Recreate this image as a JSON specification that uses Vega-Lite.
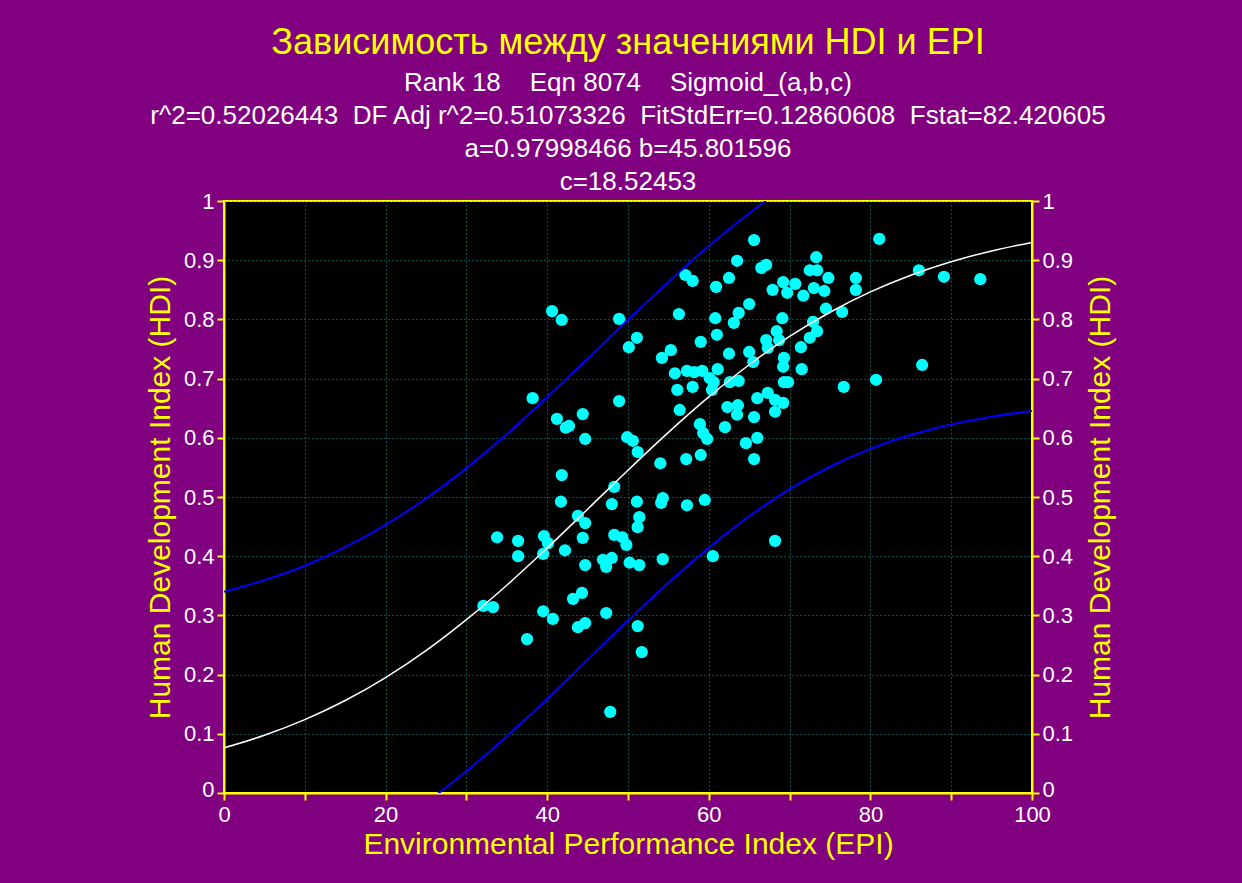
{
  "$schema": "https://vega.github.io/schema/vega-lite/v6.json",
  "width": 808,
  "height": 592,
  "autosize": {"type": "none"},
  "padding": {"left": 224, "top": 201, "right": 210, "bottom": 90},
  "background": "#800080",
  "config": {
    "font": "Liberation Sans",
    "view": {"fill": "#000000", "stroke": "#ffff00", "strokeWidth": 2}
  },
  "title": {
    "text": "Зависимость между значениями HDI и EPI",
    "subtitle": [
      "Rank 18 \u00a0 \u00a0Eqn 8074 \u00a0 \u00a0Sigmoid_(a,b,c)",
      "r^2=0.52026443 \u00a0DF Adj r^2=0.51073326 \u00a0FitStdErr=0.12860608 \u00a0Fstat=82.420605",
      "a=0.97998466 b=45.801596",
      "c=18.52453"
    ],
    "color": "#ffff00",
    "fontSize": 36,
    "fontWeight": "normal",
    "font": "Liberation Sans",
    "subtitleColor": "#ffffff",
    "subtitleFontSize": 26,
    "subtitleFont": "Liberation Sans",
    "subtitleLineHeight": 33,
    "subtitlePadding": 8,
    "anchor": "middle",
    "offset": -6
  },
  "datasets": {
    "points": [
      {"x": 65.6, "y": 0.934}, {"x": 63.5, "y": 0.899}, {"x": 66.5, "y": 0.887}, {"x": 67.1, "y": 0.892},
      {"x": 73.3, "y": 0.905}, {"x": 72.5, "y": 0.883}, {"x": 73.4, "y": 0.883}, {"x": 74.8, "y": 0.870},
      {"x": 57.1, "y": 0.875}, {"x": 58.0, "y": 0.865}, {"x": 62.5, "y": 0.870}, {"x": 60.9, "y": 0.855},
      {"x": 69.2, "y": 0.863}, {"x": 70.7, "y": 0.860}, {"x": 67.9, "y": 0.850}, {"x": 69.7, "y": 0.845},
      {"x": 73.0, "y": 0.853}, {"x": 74.3, "y": 0.848}, {"x": 71.7, "y": 0.840}, {"x": 56.3, "y": 0.809},
      {"x": 65.0, "y": 0.826}, {"x": 63.7, "y": 0.811}, {"x": 63.1, "y": 0.794}, {"x": 60.8, "y": 0.802},
      {"x": 69.1, "y": 0.802}, {"x": 74.5, "y": 0.818}, {"x": 76.5, "y": 0.8125}, {"x": 78.2, "y": 0.870},
      {"x": 78.2, "y": 0.850}, {"x": 81.1, "y": 0.936}, {"x": 86.0, "y": 0.883}, {"x": 89.1, "y": 0.872},
      {"x": 93.6, "y": 0.868}, {"x": 86.4, "y": 0.723}, {"x": 80.7, "y": 0.698}, {"x": 76.7, "y": 0.686},
      {"x": 72.9, "y": 0.796}, {"x": 73.4, "y": 0.780}, {"x": 72.5, "y": 0.769}, {"x": 71.4, "y": 0.753},
      {"x": 68.4, "y": 0.780}, {"x": 67.1, "y": 0.765}, {"x": 68.7, "y": 0.765}, {"x": 67.3, "y": 0.752},
      {"x": 69.3, "y": 0.735}, {"x": 69.2, "y": 0.720}, {"x": 71.5, "y": 0.716}, {"x": 69.3, "y": 0.694},
      {"x": 69.8, "y": 0.694}, {"x": 65.0, "y": 0.745}, {"x": 65.5, "y": 0.728}, {"x": 62.5, "y": 0.742},
      {"x": 61.0, "y": 0.774}, {"x": 59.0, "y": 0.762}, {"x": 55.3, "y": 0.748}, {"x": 54.2, "y": 0.735},
      {"x": 51.1, "y": 0.769}, {"x": 55.8, "y": 0.709}, {"x": 57.3, "y": 0.713}, {"x": 58.2, "y": 0.711},
      {"x": 59.2, "y": 0.713}, {"x": 60.1, "y": 0.701}, {"x": 60.6, "y": 0.694}, {"x": 61.1, "y": 0.716},
      {"x": 56.1, "y": 0.681}, {"x": 58.0, "y": 0.686}, {"x": 60.4, "y": 0.681}, {"x": 62.6, "y": 0.694},
      {"x": 63.7, "y": 0.696}, {"x": 56.4, "y": 0.647}, {"x": 67.3, "y": 0.676}, {"x": 68.2, "y": 0.664},
      {"x": 69.2, "y": 0.659}, {"x": 68.2, "y": 0.644}, {"x": 66.0, "y": 0.667}, {"x": 62.3, "y": 0.652},
      {"x": 63.6, "y": 0.655}, {"x": 63.5, "y": 0.639}, {"x": 65.6, "y": 0.635}, {"x": 58.9, "y": 0.623},
      {"x": 59.3, "y": 0.608}, {"x": 59.8, "y": 0.598}, {"x": 62.0, "y": 0.618}, {"x": 66.0, "y": 0.600},
      {"x": 64.6, "y": 0.591}, {"x": 65.6, "y": 0.564}, {"x": 54.0, "y": 0.557}, {"x": 57.2, "y": 0.564},
      {"x": 59.0, "y": 0.571}, {"x": 54.3, "y": 0.498}, {"x": 54.1, "y": 0.490}, {"x": 57.3, "y": 0.486},
      {"x": 59.5, "y": 0.495}, {"x": 68.2, "y": 0.426}, {"x": 60.5, "y": 0.400}, {"x": 54.3, "y": 0.395},
      {"x": 40.6, "y": 0.814}, {"x": 41.8, "y": 0.799}, {"x": 48.9, "y": 0.801}, {"x": 50.1, "y": 0.753},
      {"x": 38.2, "y": 0.667}, {"x": 48.9, "y": 0.662}, {"x": 44.4, "y": 0.640}, {"x": 41.2, "y": 0.632},
      {"x": 42.7, "y": 0.620}, {"x": 42.3, "y": 0.617}, {"x": 44.7, "y": 0.598}, {"x": 49.9, "y": 0.601},
      {"x": 50.6, "y": 0.595}, {"x": 51.2, "y": 0.576}, {"x": 41.8, "y": 0.537}, {"x": 48.3, "y": 0.517},
      {"x": 41.7, "y": 0.492}, {"x": 48.0, "y": 0.488}, {"x": 51.1, "y": 0.492}, {"x": 51.4, "y": 0.466},
      {"x": 51.2, "y": 0.449}, {"x": 43.8, "y": 0.468}, {"x": 44.7, "y": 0.456}, {"x": 33.8, "y": 0.432},
      {"x": 36.4, "y": 0.426}, {"x": 36.4, "y": 0.400}, {"x": 39.6, "y": 0.434}, {"x": 40.1, "y": 0.422},
      {"x": 44.4, "y": 0.431}, {"x": 42.2, "y": 0.410}, {"x": 39.5, "y": 0.404}, {"x": 48.3, "y": 0.436},
      {"x": 49.3, "y": 0.432}, {"x": 49.8, "y": 0.419}, {"x": 44.7, "y": 0.385}, {"x": 46.9, "y": 0.394},
      {"x": 48.0, "y": 0.397}, {"x": 47.3, "y": 0.382}, {"x": 50.2, "y": 0.389}, {"x": 51.4, "y": 0.385},
      {"x": 32.1, "y": 0.316}, {"x": 33.3, "y": 0.314}, {"x": 39.5, "y": 0.307}, {"x": 40.7, "y": 0.294},
      {"x": 43.2, "y": 0.328}, {"x": 44.3, "y": 0.338}, {"x": 47.3, "y": 0.304}, {"x": 43.8, "y": 0.280},
      {"x": 44.7, "y": 0.287}, {"x": 37.5, "y": 0.260}, {"x": 51.2, "y": 0.282}, {"x": 51.7, "y": 0.238},
      {"x": 47.8, "y": 0.137}
    ],
    "fit": [
      {"x": 0, "y": 0.0762}, {"x": 5, "y": 0.0975}, {"x": 10, "y": 0.1239}, {"x": 15, "y": 0.1562},
      {"x": 20, "y": 0.1950}, {"x": 25, "y": 0.2405}, {"x": 30, "y": 0.2928}, {"x": 35, "y": 0.3510},
      {"x": 40, "y": 0.4138}, {"x": 45, "y": 0.4794}, {"x": 50, "y": 0.5453}, {"x": 55, "y": 0.6092},
      {"x": 60, "y": 0.6691}, {"x": 65, "y": 0.7234}, {"x": 70, "y": 0.7712}, {"x": 75, "y": 0.8121},
      {"x": 80, "y": 0.8464}, {"x": 85, "y": 0.8746}, {"x": 90, "y": 0.8974}, {"x": 95, "y": 0.9157},
      {"x": 100, "y": 0.9301}
    ],
    "bands": [
      {"s": "upper", "x": 0, "y": 0.340}, {"s": "upper", "x": 5, "y": 0.3595}, {"s": "upper", "x": 10, "y": 0.3839},
      {"s": "upper", "x": 15, "y": 0.4152}, {"s": "upper", "x": 20, "y": 0.4530}, {"s": "upper", "x": 25, "y": 0.4975},
      {"s": "upper", "x": 30, "y": 0.5488}, {"s": "upper", "x": 35, "y": 0.6060}, {"s": "upper", "x": 40, "y": 0.6688},
      {"s": "upper", "x": 45, "y": 0.7334}, {"s": "upper", "x": 50, "y": 0.7993}, {"s": "upper", "x": 55, "y": 0.8632},
      {"s": "upper", "x": 60, "y": 0.9241}, {"s": "upper", "x": 65, "y": 0.9794}, {"s": "upper", "x": 70, "y": 1.0292},
      {"s": "lower", "x": 25, "y": -0.0165}, {"s": "lower", "x": 30, "y": 0.0368}, {"s": "lower", "x": 35, "y": 0.0960},
      {"s": "lower", "x": 40, "y": 0.1588}, {"s": "lower", "x": 45, "y": 0.2254}, {"s": "lower", "x": 50, "y": 0.2913},
      {"s": "lower", "x": 55, "y": 0.3552}, {"s": "lower", "x": 60, "y": 0.4141}, {"s": "lower", "x": 65, "y": 0.4674},
      {"s": "lower", "x": 70, "y": 0.5132}, {"s": "lower", "x": 75, "y": 0.5511}, {"s": "lower", "x": 80, "y": 0.5814},
      {"s": "lower", "x": 85, "y": 0.6046}, {"s": "lower", "x": 90, "y": 0.6224}, {"s": "lower", "x": 95, "y": 0.6357},
      {"s": "lower", "x": 100, "y": 0.6451}
    ]
  },
  "encoding": {
    "x": {
      "field": "x",
      "type": "quantitative",
      "scale": {"domain": [0, 100], "nice": false, "zero": false},
      "axis": {
        "values": [0, 10, 20, 30, 40, 50, 60, 70, 80, 90, 100],
        "labelExpr": "datum.value % 20 === 0 ? datum.label : ''",
        "title": "Environmental Performance Index (EPI)",
        "grid": true,
        "gridColor": "#00a0a0",
        "gridDash": [1, 3],
        "gridWidth": 1,
        "domainColor": "#ffff00",
        "domainWidth": 2,
        "tickColor": "#ffff00",
        "tickWidth": 2,
        "tickSize": 7,
        "labelColor": "#ffffff",
        "labelFontSize": 22,
        "labelFont": "Liberation Sans",
        "labelPadding": 4,
        "labelFlush": false,
        "labelOverlap": false,
        "titleColor": "#ffff00",
        "titleFontSize": 30,
        "titleFont": "Liberation Sans",
        "titleFontWeight": "normal",
        "titlePadding": 4
      }
    }
  },
  "layer": [
    {
      "data": {"name": "points"},
      "mark": {"type": "circle", "color": "#00ffff", "opacity": 1, "size": 150},
      "encoding": {
        "y": {
          "field": "y",
          "type": "quantitative",
          "scale": {"domain": [0, 1], "nice": false, "zero": false},
          "axis": {
            "orient": "right",
            "values": [0, 0.1, 0.2, 0.3, 0.4, 0.5, 0.6, 0.7, 0.8, 0.9, 1],
            "format": ".1~f",
            "title": "Human Development Index (HDI)",
            "titleAngle": 270,
            "titleX": 68,
            "titleY": 296,
            "titleAlign": "center",
            "titleBaseline": "middle",
            "grid": false,
            "domainColor": "#ffff00",
            "domainWidth": 2,
            "tickColor": "#ffff00",
            "tickWidth": 2,
            "tickSize": 7,
            "labelColor": "#ffffff",
            "labelFontSize": 22,
            "labelFont": "Liberation Sans",
            "labelPadding": 3,
            "labelOffset": {"condition": {"test": "datum.value === 0", "value": -4}, "value": 0},
            "labelFlush": false,
            "labelOverlap": false,
            "titleColor": "#ffff00",
            "titleFontSize": 30,
            "titleFont": "Liberation Sans",
            "titleFontWeight": "normal"
          }
        }
      }
    },
    {
      "data": {"name": "bands"},
      "mark": {"type": "line", "color": "#0000ff", "strokeWidth": 2, "clip": true, "interpolate": "monotone"},
      "encoding": {
        "detail": {"field": "s", "type": "nominal"},
        "y": {
          "field": "y",
          "type": "quantitative",
          "scale": {"domain": [0, 1], "nice": false, "zero": false},
          "axis": {
            "orient": "left",
            "values": [0, 0.1, 0.2, 0.3, 0.4, 0.5, 0.6, 0.7, 0.8, 0.9, 1],
            "format": ".1~f",
            "title": "Human Development Index (HDI)",
            "titleAngle": 270,
            "titleX": -64,
            "titleY": 296,
            "titleAlign": "center",
            "titleBaseline": "middle",
            "grid": true,
            "gridColor": "#00a0a0",
            "gridDash": [1, 3],
            "gridWidth": 1,
            "domainColor": "#ffff00",
            "domainWidth": 2,
            "tickColor": "#ffff00",
            "tickWidth": 2,
            "tickSize": 7,
            "labelColor": "#ffffff",
            "labelFontSize": 22,
            "labelFont": "Liberation Sans",
            "labelPadding": 3,
            "labelOffset": {"condition": {"test": "datum.value === 0", "value": -4}, "value": 0},
            "labelFlush": false,
            "labelOverlap": false,
            "titleColor": "#ffff00",
            "titleFontSize": 30,
            "titleFont": "Liberation Sans",
            "titleFontWeight": "normal"
          }
        }
      }
    },
    {
      "data": {"name": "fit"},
      "mark": {"type": "line", "color": "#ffffff", "strokeWidth": 1.5, "clip": true, "interpolate": "monotone"},
      "encoding": {
        "y": {
          "field": "y",
          "type": "quantitative",
          "scale": {"domain": [0, 1], "nice": false, "zero": false},
          "axis": null
        }
      }
    }
  ],
  "resolve": {"axis": {"y": "independent"}}
}
